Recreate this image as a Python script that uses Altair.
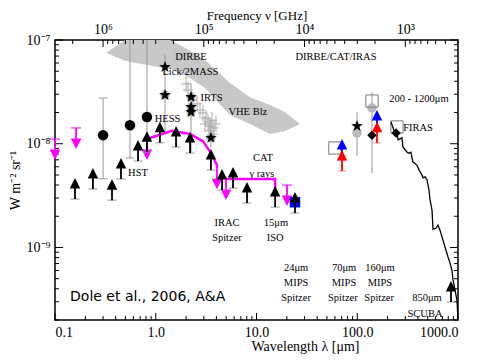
import altair as alt
import pandas as pd

C_UM_GHZ = 299792.458  # lambda[um] * nu[GHz]

# ---------------- data ----------------
band_lam = [0.321, 0.495, 0.698, 1.385, 1.95, 3.08, 5.46, 8.62, 13.6, 19.2, 27.0]
band_hi = [7.5e-8, 1.0e-7, 1.0e-7, 1.0e-7, 8.4e-8, 6.4e-8, 3.85e-8, 2.8e-8, 2.36e-8, 2.02e-8, 1.55e-8]
band_lo = [7.5e-8, 6.3e-8, 5.9e-8, 5.25e-8, 4.6e-8, 3.44e-8, 1.89e-8, 1.55e-8, 1.24e-8, 1.33e-8, 1.55e-8]

circ_lam = [0.30, 0.555, 0.818]
circ_I = [1.21e-8, 1.51e-8, 1.81e-8]
circ_lo = [4.6e-9, 7.3e-9, 1.1e-8]
circ_hi = [2.76e-8, 1.0e-7, 1.0e-7]
circ_cap_lam = [0.30, 0.30, 0.555]
circ_cap_I = [2.76e-8, 4.6e-9, 7.3e-9]

star_lam = [1.236, 1.236, 2.24, 2.24, 2.24, 3.53, 99.5]
star_I = [5.49e-8, 2.95e-8, 2.82e-8, 2.26e-8, 2.02e-8, 1.14e-8, 1.48e-8]

err_lam = [1.236, 1.236, 2.24, 2.24, 3.53, 99.5, 140]
err_lo = [4.0e-8, 1.3e-8, 2.0e-8, 8.1e-9, 9.3e-9, 7.6e-9, 5.2e-9]
err_hi = [7.2e-8, 4.0e-8, 3.85e-8, 2.3e-8, 1.7e-8, 2.02e-8, 3.15e-8]

disc_lam = [1.236, 2.24, 2.24, 2.24, 3.53, 99.5, 140]
disc_I = [2.95e-8, 2.82e-8, 2.26e-8, 2.02e-8, 1.14e-8, 1.27e-8, 2.21e-8]

irts_lam = [2.0, 2.09, 2.34, 2.57, 2.75, 2.94, 3.15, 3.30, 3.45, 3.61, 3.79, 3.38, 3.96, 3.08, 3.70]
irts_I = [3.77e-8, 3.30e-8, 2.64e-8, 2.42e-8, 2.11e-8, 1.98e-8, 1.77e-8, 1.62e-8,
          1.48e-8, 1.69e-8, 1.42e-8, 1.33e-8, 1.55e-8, 1.55e-8, 1.24e-8]

lowlim_lam = [0.158, 0.238, 0.368, 0.452, 0.667, 0.818, 1.10, 1.59, 2.19, 3.53,
              4.55, 5.85, 8.05, 15.3, 24.1, 852]
lowlim_I = [2.93e-9, 3.66e-9, 2.86e-9, 4.57e-9, 6.81e-9, 8.3e-9, 1.02e-8, 9.3e-9, 8.13e-9, 5.57e-9,
            3.58e-9, 3.74e-9, 2.68e-9, 2.45e-9, 2.15e-9, 2.98e-10]

uplim_cap_lam = [0.1, 0.162, 20.1]
uplim_cap_I = [1.11e-8, 1.42e-8, 4.0e-9]
uplim_end_lam = [0.818, 4.05, 4.98]
uplim_end_I = [1.11e-8, 5.8e-9, 4.57e-9]

hess_lam = [0.818, 1.45, 2.19, 2.94, 3.53, 4.05, 4.05]
hess_I = [1.11e-8, 1.33e-8, 1.24e-8, 1.06e-8, 8.13e-9, 6.23e-9, 5.8e-9]
cat_lam = [4.98, 15.3, 15.3]
cat_I = [4.57e-9, 4.57e-9, 3.42e-9]

sq_lam = [140, 60, 248]
sq_I = [2.58e-8, 9.1e-9, 1.45e-8]
diam_lam = [140, 243]
diam_I = [1.21e-8, 1.27e-8]

blue_lam = [70.6, 157]
blue_I = [6.97e-9, 1.33e-8]
red_lam = [70.6, 157]
red_I = [5.45e-9, 1.02e-8]
bluesq_lam = [24.1]
bluesq_I = [2.73e-9]

firas_lam = [216, 237, 248, 254, 278, 284, 312, 326, 341, 349, 357, 392, 410, 439, 450, 470,
             492, 515, 527, 552, 565, 605, 633, 663, 743, 796, 833, 871, 892, 933, 977, 1000]
firas_I = [1.62e-8, 1.27e-8, 1.30e-8, 1.09e-8, 1.14e-8, 9.3e-9, 8.3e-9, 8.1e-9, 8.3e-9, 7.4e-9,
           6.7e-9, 6.2e-9, 5.6e-9, 5.0e-9, 4.7e-9, 4.8e-9, 4.5e-9, 3.6e-9, 2.9e-9, 2.3e-9,
           1.5e-9, 1.54e-9, 1.64e-9, 1.47e-9, 1.01e-9, 8.1e-10, 7.1e-10, 6.0e-10, 4.9e-10,
           3.9e-10, 3.1e-10, 2.0e-10]

labels = ["DIRBE", "Lick/2MASS", "IRTS", "VHE Blz", "HESS", "HST", "DIRBE/CAT/IRAS",
          "200 - 1200μm", "FIRAS", "CAT", "γ rays", "IRAC", "Spitzer", "15μm", "ISO",
          "24μm", "MIPS", "Spitzer", "70μm", "MIPS", "Spitzer", "160μm", "MIPS", "Spitzer",
          "850μm", "SCUBA"]
label_lam = [2.24, 2.21, 3.58, 8.2, 1.31, 0.667, 61.5, 410, 401, 11.6, 11.3, 5.09, 5.09,
             15.6, 15.3, 24.7, 24.7, 24.7, 73.9, 73.9, 72, 168, 168, 165, 492, 470]
label_I = [6.86e-8, 4.91e-8, 2.76e-8, 2.02e-8, 1.73e-8, 5.22e-9, 6.86e-8, 2.70e-8, 1.42e-8,
           7.28e-9, 5.1e-9, 1.72e-9, 1.23e-9, 1.72e-9, 1.23e-9, 6.33e-10, 4.54e-10, 3.25e-10,
           6.33e-10, 4.54e-10, 3.25e-10, 6.33e-10, 4.54e-10, 3.25e-10, 3.25e-10, 2.28e-10]

credit = ["Dole et al., 2006, A&A"]
credit_lam = [0.141]
credit_I = [3.32e-10]

x_ticks = [0.1, 1, 10, 100, 1000]
y_ticks = [1e-9, 1e-8, 1e-7]
y_tick_labels = ["10⁻⁹", "10⁻⁸", "10⁻⁷"]
nu_ticks = [1e6, 1e5, 1e4, 1e3]
nu_tick_labels = ["10⁶", "10⁵", "10⁴", "10³"]

x_minor = [m * 10.0 ** e for e in range(-1, 3) for m in range(2, 10)]
y_minor = [m * 10.0 ** e for e in range(-10, -7) for m in range(2, 10)]
nu_minor = [m * 10.0 ** e for e in range(2, 7) for m in range(2, 10)
            if C_UM_GHZ / 1000 <= m * 10.0 ** e <= C_UM_GHZ / 0.1]

# frequency ticks expressed as wavelengths (same x scale)
nu_ticks_lam = [C_UM_GHZ / v for v in nu_ticks]
nu_minor_lam = [C_UM_GHZ / v for v in nu_minor]

# ---------------- helpers ----------------
W, H = 403, 280
SERIF = "Liberation Serif"
xs = alt.Scale(type="log", domain=[0.1, 1000], nice=False)
ys = alt.Scale(type="log", domain=[2e-10, 1e-7], nice=False)

ARROW_UP = "M0,0L0,-0.62M-0.2,-0.6L0,-1L0.2,-0.6Z"
ARROW_DOWN = "M0,0L0,0.62M-0.2,0.6L0,1L0.2,0.6Z"
CAP = "M-1,0L1,0"
CROSS = "M-0.6,0L0.6,0M0,-1L0,1"
STAR = ("M0,-1L0.235,-0.324L0.951,-0.309L0.380,0.124L0.588,0.809L0,0.4L-0.588,0.809"
        "L-0.380,0.124L-0.951,-0.309L-0.235,-0.324Z")


def frame(**cols):
    return pd.DataFrame(cols)


def X(f="lam"):
    return alt.X(f"{f}:Q", scale=xs, axis=None)


def Y(f="I"):
    return alt.Y(f"{f}:Q", scale=ys, axis=None)


def pts(lam, I, **mark):
    return alt.Chart(frame(lam=lam, I=I)).mark_point(opacity=1, **mark).encode(x=X(), y=Y())


def label_expr_lookup(vals, labs):
    expr = "''"
    for v, l in zip(vals, labs):
        expr = f"abs(datum.value - {v}) < {v * 0.01} ? '{l}' : " + expr
    return expr


# ---------------- layers ----------------
band = alt.Chart(frame(lam=band_lam, hi=band_hi, lo=band_lo)).mark_area(
    color="#c8c8c8", opacity=1
).encode(
    x=alt.X("lam:Q", scale=xs, axis=alt.Axis(
        orient="bottom", values=x_ticks, format=".1f", title="Wavelength λ [μm]",
        ticks=False, domain=False, grid=False, labelFontSize=14, titleFontSize=14,
        labelPadding=5, titlePadding=0, titleX=250)),
    y=alt.Y("hi:Q", scale=ys, axis=alt.Axis(
        values=y_ticks, labelExpr=label_expr_lookup(y_ticks, y_tick_labels),
        title="W m⁻² sr⁻¹", ticks=False, domain=False, grid=False, labelFontSize=14,
        titleFontSize=14, labelPadding=5, titlePadding=4)),
    y2="lo:Q",
)

top_axis = alt.Chart(frame(v=nu_ticks_lam)).mark_rule(color="black", strokeWidth=1).encode(
    x=alt.X("v:Q", scale=xs, axis=alt.Axis(
        orient="top", values=nu_ticks_lam, labelExpr=label_expr_lookup(nu_ticks_lam, nu_tick_labels),
        title="Frequency ν [GHz]", ticks=False, domain=False, grid=False,
        labelFontSize=14, titleFontSize=13, labelPadding=4, titlePadding=0)),
    y=alt.value(0), y2=alt.value(7))


def yticks(vals, x0, x1):
    return alt.Chart(frame(v=vals)).mark_rule(color="black", strokeWidth=1).encode(
        y=Y("v"), x=alt.value(x0), x2=alt.value(x1))


def xticks(vals, y0, y1):
    return alt.Chart(frame(v=vals)).mark_rule(color="black", strokeWidth=1).encode(
        x=X("v"), y=alt.value(y0), y2=alt.value(y1))


ticks = [
    yticks(y_ticks, 0, 8), yticks(y_minor, 0, 4),
    yticks(y_ticks, W, W - 8), yticks(y_minor, W, W - 4),
    xticks(x_ticks, H, H - 7), xticks(x_minor, H, H - 4),
    xticks(nu_minor_lam, 0, 4),
]

circ_err = alt.Chart(frame(lam=circ_lam, lo=circ_lo, hi=circ_hi)).mark_rule(
    color="#999999", strokeWidth=1).encode(x=X(), y=Y("lo"), y2="hi:Q")
star_err = alt.Chart(frame(lam=err_lam, lo=err_lo, hi=err_hi)).mark_rule(
    color="#999999", strokeWidth=1).encode(x=X(), y=Y("lo"), y2="hi:Q")
circ_caps = pts(circ_cap_lam, circ_cap_I, shape=CAP, size=81, filled=False,
                stroke="#999999", strokeWidth=1)

irts = pts(irts_lam, irts_I, shape=CROSS, size=256, filled=False, stroke="#aaaaaa", strokeWidth=1)
discs = pts(disc_lam, disc_I, shape="circle", size=90, filled=True, fill="#bbbbbb",
            stroke="#bbbbbb", strokeWidth=0)
squares = pts(sq_lam, sq_I, shape="square", size=150, filled=False, stroke="#777777",
              strokeWidth=1)
circles = pts(circ_lam, circ_I, shape="circle", size=110, filled=True, fill="black",
              strokeWidth=0)
stars = pts(star_lam, star_I, shape=STAR, size=150, filled=True, fill="black", strokeWidth=0)
diamonds = pts(diam_lam, diam_I, shape="diamond", size=90, filled=True, fill="black",
               strokeWidth=0)

firas = alt.Chart(frame(lam=firas_lam, I=firas_I, i=list(range(len(firas_lam))))).mark_line(
    color="black", strokeWidth=1.3, clip=True).encode(x=X(), y=Y(), order="i:Q")
hess = alt.Chart(frame(lam=hess_lam, I=hess_I, i=list(range(len(hess_lam))))).mark_line(
    color="#ff00ff", strokeWidth=2.5).encode(x=X(), y=Y(), order="i:Q")
cat = alt.Chart(frame(lam=cat_lam, I=cat_I, i=list(range(len(cat_lam))))).mark_line(
    color="#ff00ff", strokeWidth=2.5).encode(x=X(), y=Y(), order="i:Q")

ARR = dict(size=1444, filled=True, strokeWidth=1.8)
mag_caps = pts(uplim_cap_lam, uplim_cap_I, shape=CAP, size=100, filled=False,
               stroke="#ff00ff", strokeWidth=1)
mag_arr1 = pts(uplim_cap_lam, uplim_cap_I, shape=ARROW_DOWN, fill="#ff00ff", stroke="#ff00ff", **ARR)
mag_arr2 = pts(uplim_end_lam, uplim_end_I, shape=ARROW_DOWN, fill="#ff00ff", stroke="#ff00ff", **ARR)

bluesq = pts(bluesq_lam, bluesq_I, shape="square", size=110, filled=True, fill="#0000ff",
             strokeWidth=0)

blk_caps = pts(lowlim_lam, lowlim_I, shape=CAP, size=81, filled=False, stroke="#999999",
               strokeWidth=1)
blk_arr = pts(lowlim_lam, lowlim_I, shape=ARROW_UP, fill="black", stroke="black", **ARR)

blue_caps = pts(blue_lam, blue_I, shape=CAP, size=81, filled=False, stroke="#9999ff", strokeWidth=1)
blue_arr = pts(blue_lam, blue_I, shape=ARROW_UP, fill="#0000ff", stroke="#0000ff", **ARR)
red_caps = pts(red_lam, red_I, shape=CAP, size=81, filled=False, stroke="#ff9999", strokeWidth=1)
red_arr = pts(red_lam, red_I, shape=ARROW_UP, fill="#ff0000", stroke="#ff0000", **ARR)

texts = alt.Chart(frame(lam=label_lam, I=label_I, t=labels)).mark_text(
    font=SERIF, fontSize=10.5, align="center", baseline="middle", color="black"
).encode(x=X(), y=Y(), text="t:N")
credit_txt = alt.Chart(frame(lam=credit_lam, I=credit_I, t=credit)).mark_text(
    font="DejaVu Sans", fontSize=14, align="left", baseline="middle", color="black"
).encode(x=X(), y=Y(), text="t:N")

chart = alt.layer(
    band, top_axis, *ticks, circ_err, star_err, circ_caps, irts, discs, squares, circles, stars,
    diamonds, firas, hess, cat, mag_caps, mag_arr1, mag_arr2, bluesq, blk_caps, blk_arr,
    blue_caps, blue_arr, red_caps, red_arr, texts, credit_txt,
).resolve_axis(x="independent", y="independent").properties(
    width=W, height=H,
    padding={"left": 47, "top": 32, "right": 38, "bottom": 40},
    autosize=alt.AutoSizeParams(type="none"),
).configure_view(stroke="black", strokeWidth=1.5).configure_axis(
    labelFont=SERIF, titleFont=SERIF, labelColor="black", titleColor="black",
    titleFontWeight="normal",
)

chart.save("out.html", embed_options={"renderer": "svg", "actions": False})
